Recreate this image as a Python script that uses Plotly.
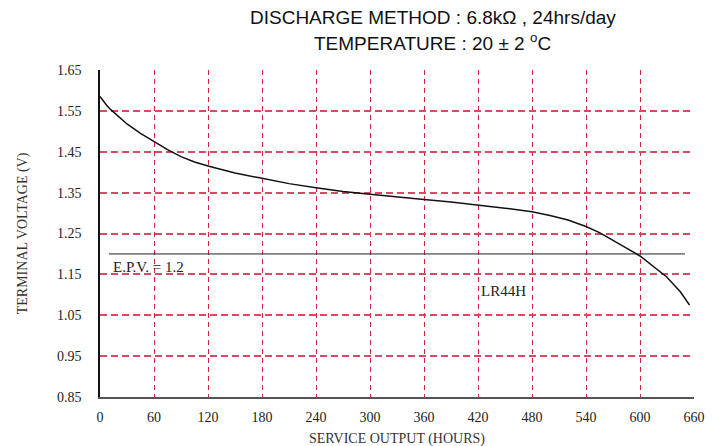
import plotly.graph_objects as go

# Discharge curve (hours, volts)
hours = [0, 4, 8, 12, 20, 30, 45, 60, 75, 90, 105, 120, 150, 180, 210, 240, 270, 300, 330, 360, 390,
         420, 450, 480, 500, 520, 540, 555, 570, 585, 600, 615, 630, 645, 655]
volts = [1.585, 1.573, 1.562, 1.553, 1.537, 1.518, 1.495, 1.475, 1.455, 1.438, 1.425, 1.415, 1.398,
         1.385, 1.372, 1.362, 1.353, 1.346, 1.339, 1.333, 1.327, 1.320, 1.312, 1.303, 1.294, 1.283,
         1.267, 1.252, 1.234, 1.214, 1.195, 1.170, 1.143, 1.107, 1.075]

# End-point voltage line
epv_hours = [10, 650]
epv_volts = [1.2, 1.2]

x_ticks = [0, 60, 120, 180, 240, 300, 360, 420, 480, 540, 600, 660]
y_ticks = [0.85, 0.95, 1.05, 1.15, 1.25, 1.35, 1.45, 1.55, 1.65]
y_tick_labels = ["0.85", "0.95", "1.05", "1.15", "1.25", "1.35", "1.45", "1.55", "1.65"]

title_line1 = "DISCHARGE METHOD : 6.8kΩ , 24hrs/day"
title_line2 = "TEMPERATURE : 20 ± 2 <sup>o</sup>C"
x_title = "SERVICE OUTPUT (HOURS)"
y_title = "TERMINAL VOLTAGE (V)"
epv_label = "E.P.V. = 1.2"
model_label = "LR44H"

serif = "Liberation Serif, Times New Roman, serif"
sans = "Liberation Sans, Arial, sans-serif"

fig = go.Figure()
fig.add_trace(go.Scatter(x=epv_hours, y=epv_volts, mode="lines",
                         line=dict(color="#222222", width=1), hoverinfo="skip"))
fig.add_trace(go.Scatter(x=hours, y=volts, mode="lines",
                         line=dict(color="#111111", width=1.5)))

fig.update_layout(
    width=717, height=446,
    margin=dict(l=100, r=16, t=70, b=49),
    paper_bgcolor="white", plot_bgcolor="white",
    showlegend=False,
    font=dict(family=serif, size=14, color="#222222"),
)

fig.update_xaxes(
    range=[0, 660], tickvals=x_ticks, ticktext=[str(v) for v in x_ticks],
    showgrid=True, gridcolor="#cc2a3c", gridwidth=1.2, griddash="5px,4px",
    zeroline=False, showline=True, linecolor="#555555", linewidth=1.5,
    ticks="", ticklabelstandoff=6,
    tickfont=dict(family=serif, size=14, color="#222222"),
)
fig.update_yaxes(
    range=[0.85, 1.65], tickvals=y_ticks, ticktext=y_tick_labels,
    showgrid=True, gridcolor="#d94a62", gridwidth=1.5, griddash="7px,4px",
    zeroline=False, showline=True, linecolor="#111111", linewidth=1.5,
    ticks="", ticklabelstandoff=14,
    tickfont=dict(family=serif, size=14, color="#222222"),
)

annotations = [
    dict(text=title_line1, x=0.56, y=1.160, xref="paper", yref="paper", showarrow=False,
         xanchor="center", yanchor="middle", font=dict(family=sans, size=19, color="#111111")),
    dict(text=title_line2, x=0.56, y=1.087, xref="paper", yref="paper", showarrow=False,
         xanchor="center", yanchor="middle", font=dict(family=sans, size=19, color="#111111")),
    dict(text=x_title, x=0.5, y=-0.127, xref="paper", yref="paper", showarrow=False,
         xanchor="center", yanchor="middle", font=dict(family=serif, size=14, color="#333333")),
    dict(text=y_title, x=-0.13, y=0.5, xref="paper", yref="paper", showarrow=False, textangle=-90,
         xanchor="center", yanchor="middle", font=dict(family=serif, size=14, color="#333333")),
    dict(text=epv_label, x=12, y=1.168, xref="x", yref="y", showarrow=False,
         xanchor="left", yanchor="middle", font=dict(family=serif, size=15, color="#222222")),
    dict(text=model_label, x=421, y=1.109, xref="x", yref="y", showarrow=False,
         xanchor="left", yanchor="middle", font=dict(family=serif, size=15, color="#222222")),
]
fig.update_layout(annotations=annotations)

fig.write_html("out.html", config={"displayModeBar": False},
               post_script="document.body.style.margin='0';document.body.style.overflow='hidden';")
